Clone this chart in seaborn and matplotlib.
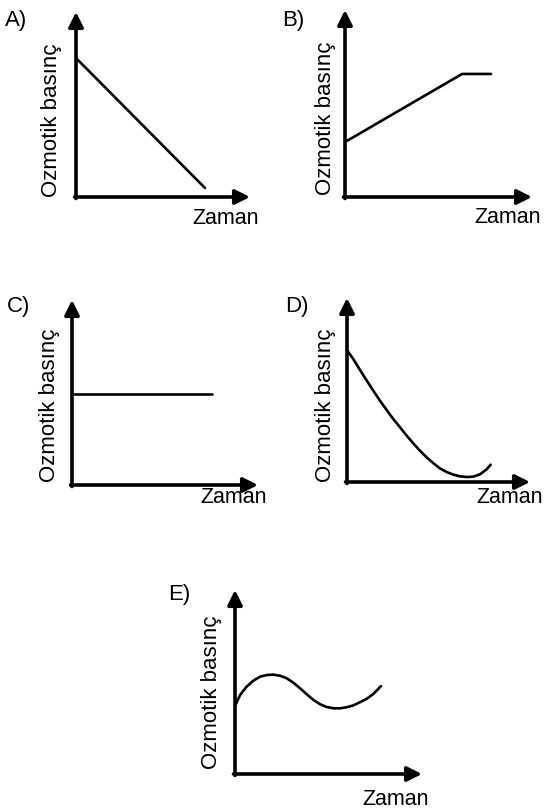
import numpy as np
import pandas as pd
import matplotlib
matplotlib.use("Agg")
import matplotlib.pyplot as plt
import seaborn as sns

# ------------------------------------
# Data (arbitrary units, 0-10 on both axes)
# ------------------------------------

a_time = [0.0, 7.41]
a_pressure = [7.51, 0.49]

b_time = [0.0, 6.26, 7.81]
b_pressure = [2.94, 6.58, 6.58]

c_time = [0.0, 7.53]
c_pressure = [4.92, 4.92]

d_time = [0.0, 0.35, 0.71, 1.08, 1.44, 1.80, 2.17, 2.53, 2.90, 3.26, 3.62, 3.99,
          4.35, 4.72, 5.08, 5.45, 5.81, 6.17, 6.54, 6.90, 7.27, 7.63, 7.85]
d_pressure = [7.17, 6.67, 6.09, 5.51, 4.96, 4.42, 3.91, 3.42, 2.97, 2.52, 2.10, 1.70,
              1.34, 1.02, 0.74, 0.54, 0.40, 0.31, 0.27, 0.29, 0.42, 0.69, 0.94]

e_time = [0.0, 0.27, 0.62, 0.98, 1.34, 1.70, 2.05, 2.41, 2.77, 3.12, 3.48, 3.84,
          4.20, 4.55, 4.91, 5.26, 5.62, 5.98, 6.33, 6.68, 7.05, 7.40, 7.81]
e_pressure = [3.70, 4.29, 4.75, 5.07, 5.29, 5.38, 5.40, 5.34, 5.20, 4.96, 4.66, 4.33,
              4.02, 3.79, 3.64, 3.57, 3.57, 3.63, 3.73, 3.90, 4.09, 4.35, 4.78]

panel_labels = ["A)", "B)", "C)", "D)", "E)"]
y_label = "Ozmotik basınç"
x_label = "Zaman"

# ------------------------------------
# Layout (pixels in a 544x809 image)
# ------------------------------------

W, H = 544, 809

# left, right, bottom, top of each axis frame (origin to arrow tips)
frames = [
    (76, 250, 197, 12),
    (345, 532, 197, 10),
    (72, 258, 485, 300),
    (347, 530, 482, 298),
    (235, 422, 774, 590),
]

# panel label (x, baseline), ylabel centre, xlabel (left, baseline)
label_pos = [(5, 26), (282, 26), (7, 312), (285, 312), (168, 600)]
ylabel_pos = [(52, 120), (326, 118), (50, 405), (325, 405), (212, 692)]
xlabel_pos = [(192, 224), (474, 223), (200, 503), (476, 503), (362, 805)]

series = [
    (a_time, a_pressure),
    (b_time, b_pressure),
    (c_time, c_pressure),
    (d_time, d_pressure),
    (e_time, e_pressure),
]

sns.set_theme(style="white")
plt.rcParams["font.family"] = ["Liberation Sans", "DejaVu Sans"]
plt.rcParams["text.color"] = "black"

fig = plt.figure(figsize=(W / 100, H / 100), dpi=100)


def fx(x):
    return x / W


def fy(y):
    return 1 - y / H


for i, (left, right, bottom, top) in enumerate(frames):

    ax = fig.add_axes([
        fx(left),
        fy(bottom),
        (right - left) / W,
        (bottom - top) / H
    ])

    t, p = series[i]

    df = pd.DataFrame({"Zaman": t, "Basinc": p})

    sns.lineplot(
        data=df,
        x="Zaman",
        y="Basinc",
        sort=False,
        estimator=None,
        color="black",
        linewidth=1.9,
        ax=ax
    )

    ax.set_xlim(0, 10)
    ax.set_ylim(0, 10)
    ax.set_axis_off()

    arrow = dict(
        arrowstyle="-|>",
        color="black",
        lw=2.6,
        mutation_scale=22,
        shrinkA=0,
        shrinkB=0
    )

    ax.annotate("", xy=(0, 1), xytext=(0, -0.008),
                xycoords="axes fraction", arrowprops=arrow)
    ax.annotate("", xy=(1, 0), xytext=(-0.008, 0),
                xycoords="axes fraction", arrowprops=arrow)

    lx, ly = label_pos[i]
    fig.text(fx(lx), fy(ly), panel_labels[i],
             fontsize=16, ha="left", va="baseline", color="black")

    yx, yy = ylabel_pos[i]
    fig.text(fx(yx), fy(yy), y_label, rotation=90,
             fontsize=16, ha="center", va="center", color="black")

    xx, xy = xlabel_pos[i]
    fig.text(fx(xx), fy(xy), x_label,
             fontsize=15.5, ha="left", va="baseline", color="black")

fig.savefig("out.png", dpi=100)
plt.close(fig)
